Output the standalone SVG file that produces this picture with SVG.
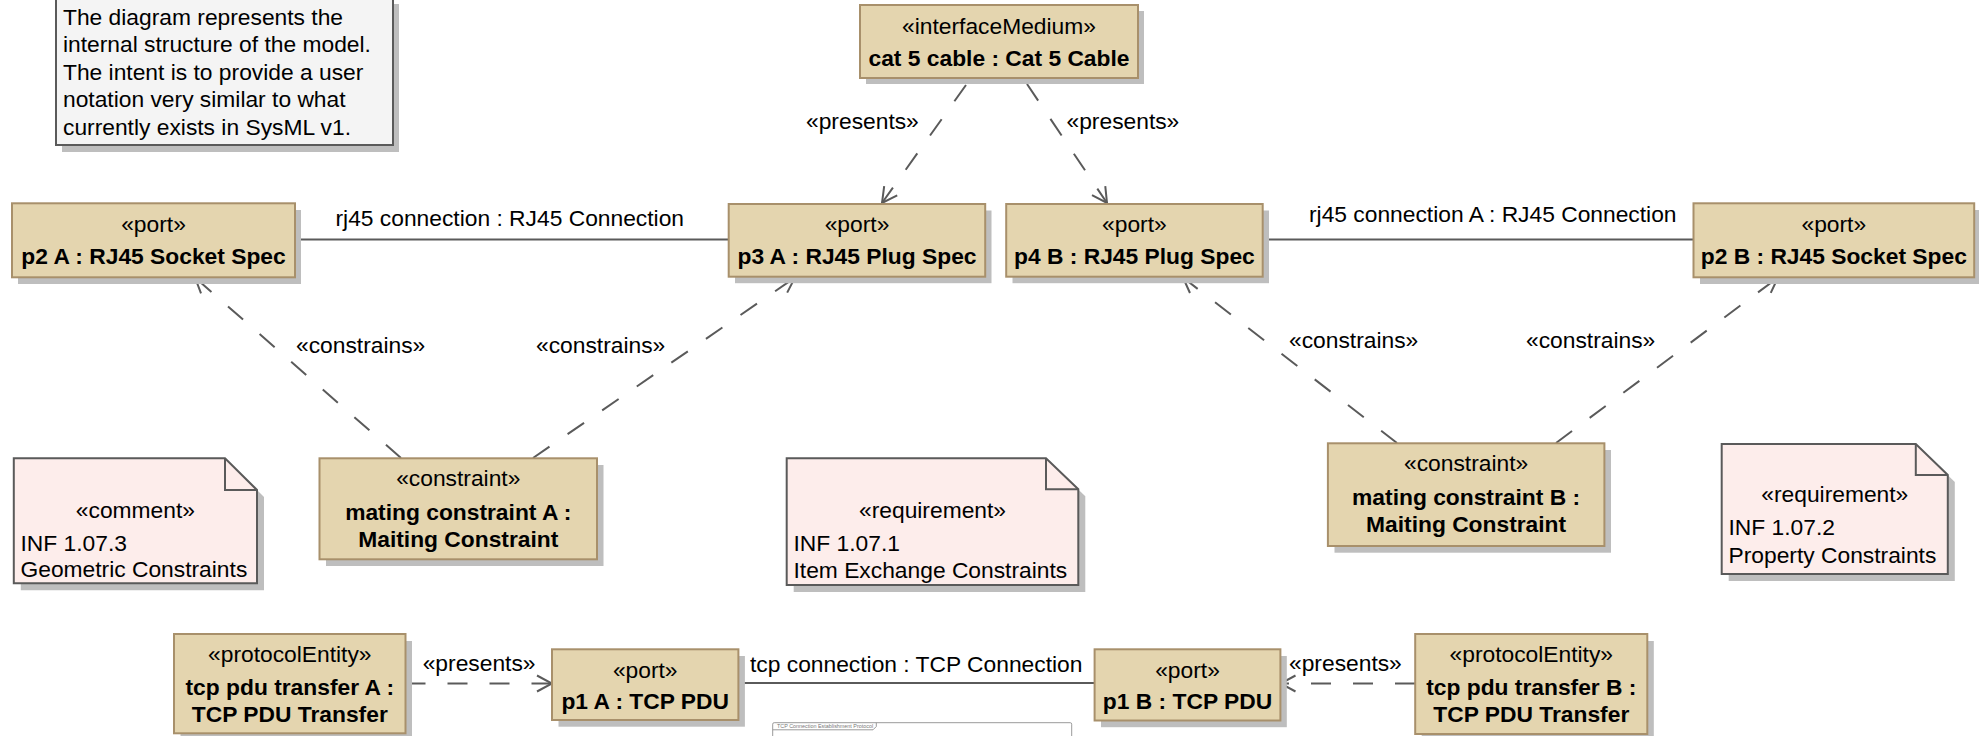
<svg xmlns="http://www.w3.org/2000/svg" width="1979" height="736" viewBox="0 0 1979 736">
  <style>
    .t { font-family: "Liberation Sans", Arial, sans-serif; font-size: 22.8px; fill: #000; }
    .b { font-weight: bold; }
    .c { text-anchor: middle; }
    .box { fill: #E4D5AF; stroke: #A8906B; stroke-width: 2; }
    .shadow { fill: #BEBEBE; stroke: none; }
    .note { fill: #FDEDEB; stroke: #5A5A5A; stroke-width: 2; stroke-linejoin: miter; }
    .fold { fill: none; stroke: #5A5A5A; stroke-width: 2; }
    .memo { fill: #F4F4F4; stroke: #5A5A5A; stroke-width: 2; }
    .link { fill: none; stroke: #5A5A5A; stroke-width: 2; }
    .dash { stroke-dasharray: 20 22; }
    .frame { fill: #FFFFFF; stroke: #9A9A9A; stroke-width: 1; }
  </style>
  <defs>
    <marker id="open" viewBox="-17 -10 19 20" refX="0" refY="0" markerWidth="19" markerHeight="20" markerUnits="userSpaceOnUse" orient="auto">
      <path d="M -15 -8 L 0 0 L -15 8" fill="none" stroke="#5A5A5A" stroke-width="2"/>
    </marker>
  </defs>

  <!-- free comment -->
  <g id="memo">
    <rect class="shadow" x="62" y="4" width="337" height="148"/>
    <rect class="memo" x="56" y="-3" width="337" height="148"/>
    <text class="t" x="63" y="24.5">The diagram represents the</text>
    <text class="t" x="63" y="52">internal structure of the model.</text>
    <text class="t" x="63" y="79.5">The intent is to provide a user</text>
    <text class="t" x="63" y="107">notation very similar to what</text>
    <text class="t" x="63" y="134.5">currently exists in SysML v1.</text>
  </g>

  <!-- connectors -->
  <g id="connectors">
    <line class="link" x1="295" y1="239.5" x2="729" y2="239.5"/>
    <line class="link" x1="1263" y1="239.5" x2="1694" y2="239.5"/>
    <line class="link" x1="738.5" y1="683" x2="1094.5" y2="683"/>
    <line class="link dash" x1="966" y1="85" x2="882" y2="203" marker-end="url(#open)"/>
    <line class="link dash" x1="1027" y1="84" x2="1107" y2="203" marker-end="url(#open)"/>
    <line class="link dash" x1="401" y1="458" x2="195" y2="277.5" marker-end="url(#open)"/>
    <line class="link dash" x1="533" y1="458" x2="795" y2="277.5" marker-end="url(#open)"/>
    <line class="link dash" x1="1397" y1="443" x2="1183" y2="277.5" marker-end="url(#open)"/>
    <line class="link dash" x1="1556" y1="443" x2="1778" y2="277.5" marker-end="url(#open)"/>
    <line class="link dash" x1="405.5" y1="683.5" x2="552" y2="683.5" marker-end="url(#open)"/>
    <line class="link dash" x1="1415" y1="683.5" x2="1280.5" y2="683.5" marker-end="url(#open)"/>
    <text class="t" x="335.5" y="225.5">rj45 connection : RJ45 Connection</text>
    <text class="t" x="1309" y="222">rj45 connection A : RJ45 Connection</text>
    <text class="t" x="750" y="672">tcp connection : TCP Connection</text>
    <text class="t" x="806" y="129">«presents»</text>
    <text class="t" x="1066.5" y="129">«presents»</text>
    <text class="t" x="296" y="353">«constrains»</text>
    <text class="t" x="536" y="353">«constrains»</text>
    <text class="t" x="1289" y="347.5">«constrains»</text>
    <text class="t" x="1526" y="347.5">«constrains»</text>
    <text class="t" x="422.7" y="670.5">«presents»</text>
    <text class="t" x="1289" y="670.5">«presents»</text>
  </g>

  <!-- interface medium -->
  <g id="cat5-cable">
    <rect class="shadow" x="866" y="11" width="278" height="73"/>
    <rect class="box" x="860" y="5" width="278" height="73"/>
    <text class="t c" x="999" y="33.5">«interfaceMedium»</text>
    <text class="t b c" x="999" y="65.5">cat 5 cable : Cat 5 Cable</text>
  </g>

  <!-- ports -->
  <g id="p2-a">
    <rect class="shadow" x="18" y="210" width="283" height="74"/>
    <rect class="box" x="12" y="203.3" width="283" height="74"/>
    <text class="t c" x="153.5" y="232">«port»</text>
    <text class="t b c" x="153.5" y="264">p2 A : RJ45 Socket Spec</text>
  </g>
  <g id="p3-a">
    <rect class="shadow" x="735" y="210.5" width="256.5" height="72.7"/>
    <rect class="box" x="728.7" y="204" width="256.5" height="72.7"/>
    <text class="t c" x="857" y="232">«port»</text>
    <text class="t b c" x="857" y="264">p3 A : RJ45 Plug Spec</text>
  </g>
  <g id="p4-b">
    <rect class="shadow" x="1012.5" y="210.5" width="256.5" height="72.7"/>
    <rect class="box" x="1006.2" y="204" width="256.5" height="72.7"/>
    <text class="t c" x="1134.4" y="232">«port»</text>
    <text class="t b c" x="1134.4" y="264">p4 B : RJ45 Plug Spec</text>
  </g>
  <g id="p2-b">
    <rect class="shadow" x="1700" y="210" width="281" height="74"/>
    <rect class="box" x="1693.5" y="203.3" width="280.7" height="74"/>
    <text class="t c" x="1833.8" y="232">«port»</text>
    <text class="t b c" x="1833.8" y="264">p2 B : RJ45 Socket Spec</text>
  </g>

  <!-- constraint blocks -->
  <g id="mating-constraint-a">
    <rect class="shadow" x="326" y="465" width="277.5" height="101"/>
    <rect class="box" x="319.5" y="458.3" width="277.5" height="101"/>
    <text class="t c" x="458.3" y="486">«constraint»</text>
    <text class="t b c" x="458.3" y="520">mating constraint A :</text>
    <text class="t b c" x="458.3" y="546.5">Maiting Constraint</text>
  </g>
  <g id="mating-constraint-b">
    <rect class="shadow" x="1334.5" y="450" width="276.5" height="102.7"/>
    <rect class="box" x="1327.9" y="443.3" width="276.5" height="102.7"/>
    <text class="t c" x="1466.1" y="471">«constraint»</text>
    <text class="t b c" x="1466.1" y="505">mating constraint B :</text>
    <text class="t b c" x="1466.1" y="531.5">Maiting Constraint</text>
  </g>

  <!-- notes -->
  <g id="inf-1-07-3">
    <path class="shadow" d="M20.8,465.3 H232 L264,497 V590.3 H20.8 Z"/>
    <path class="note" d="M13.8,458.3 H225 L257,490 V583.3 H13.8 Z"/>
    <path class="fold" d="M225,458.3 V490 H257"/>
    <text class="t c" x="135.4" y="518">«comment»</text>
    <text class="t" x="20.5" y="550.5">INF 1.07.3</text>
    <text class="t" x="20.5" y="577">Geometric Constraints</text>
  </g>
  <g id="inf-1-07-1">
    <path class="shadow" d="M793.7,465.3 H1053 L1085.3,496.3 V592 H793.7 Z"/>
    <path class="note" d="M786.7,458.3 H1046 L1078.3,489.3 V585 H786.7 Z"/>
    <path class="fold" d="M1046,458.3 V489.3 H1078.3"/>
    <text class="t c" x="932.5" y="518">«requirement»</text>
    <text class="t" x="793.5" y="551">INF 1.07.1</text>
    <text class="t" x="793.5" y="577.5">Item Exchange Constraints</text>
  </g>
  <g id="inf-1-07-2">
    <path class="shadow" d="M1728.7,451 H1922.8 L1954.8,482 V581 H1728.7 Z"/>
    <path class="note" d="M1721.7,444 H1915.8 L1947.8,475 V574 H1721.7 Z"/>
    <path class="fold" d="M1915.8,444 V475 H1947.8"/>
    <text class="t c" x="1834.8" y="501.5">«requirement»</text>
    <text class="t" x="1728.5" y="534.5">INF 1.07.2</text>
    <text class="t" x="1728.5" y="562.5">Property Constraints</text>
  </g>

  <!-- protocol entities and their ports -->
  <g id="tcp-pdu-transfer-a">
    <rect class="shadow" x="180.5" y="641" width="231.5" height="99.3"/>
    <rect class="box" x="174" y="634" width="231.5" height="99.3"/>
    <text class="t c" x="289.8" y="661.5">«protocolEntity»</text>
    <text class="t b c" x="289.8" y="695">tcp pdu transfer A :</text>
    <text class="t b c" x="289.8" y="721.5">TCP PDU Transfer</text>
  </g>
  <g id="p1-a">
    <rect class="shadow" x="558.5" y="656" width="186.4" height="70.7"/>
    <rect class="box" x="552" y="649.3" width="186.4" height="70.7"/>
    <text class="t c" x="645.2" y="677.5">«port»</text>
    <text class="t b c" x="645.2" y="708.5">p1 A : TCP PDU</text>
  </g>
  <g id="p1-b">
    <rect class="shadow" x="1101" y="656" width="185.8" height="71.2"/>
    <rect class="box" x="1094.6" y="649.3" width="185.8" height="71.2"/>
    <text class="t c" x="1187.5" y="677.5">«port»</text>
    <text class="t b c" x="1187.5" y="708.5">p1 B : TCP PDU</text>
  </g>
  <g id="tcp-pdu-transfer-b">
    <rect class="shadow" x="1421.7" y="641" width="232.1" height="100"/>
    <rect class="box" x="1415.2" y="634" width="232.1" height="100"/>
    <text class="t c" x="1531.3" y="661.5">«protocolEntity»</text>
    <text class="t b c" x="1531.3" y="695">tcp pdu transfer B :</text>
    <text class="t b c" x="1531.3" y="721.5">TCP PDU Transfer</text>
  </g>

  <!-- nested protocol frame, cut by the lower edge -->
  <g id="tcp-connection-establishment-protocol">
    <rect class="frame" x="772.7" y="722.7" width="299" height="40" rx="1.5"/>
    <path d="M772.7,729.8 H873 L876.3,726.5 V722.7" fill="none" stroke="#9A9A9A" stroke-width="1"/>
    <text x="777" y="727.6" style="font-family: 'Liberation Sans', Arial, sans-serif; font-size: 5.4px; fill: #777;">TCP Connection Establishment Protocol</text>
  </g>
</svg>
